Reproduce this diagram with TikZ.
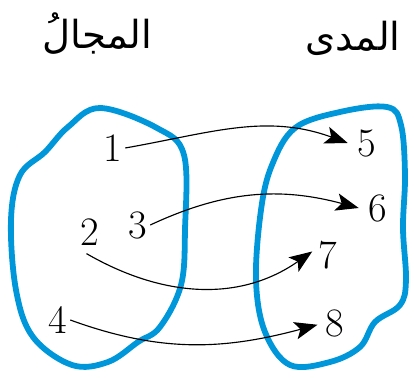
\documentclass[tikz,border=0pt]{standalone}
\usepackage{fontspec}
\usepackage{xcolor}
\usetikzlibrary{arrows.meta}
\newfontfamily\arabicfont[Script=Arabic]{DejaVu Sans}
\TeXXeTstate=1
\definecolor{setblue}{RGB}{0,150,218}

\begin{document}
\begin{tikzpicture}[x=0.02cm,y=-0.02cm,>={Stealth[length=13pt,width=10pt,inset=3pt]},line join=round]
  \tikzset{
    elem/.style={inner sep=1.5pt,font=\fontsize{23}{27}\selectfont},
    maparrow/.style={->,line width=0.65pt,black},
    blob/.style={setblue,line width=3.3pt},
    settitle/.style={font=\fontsize{22}{26}\selectfont\arabicfont}
  }
  \useasboundingbox (0,0) rectangle (414,378);
  % set outlines
  \draw[blob] plot[smooth cycle,tension=0.6] coordinates {
    (100,108) (157,128) (184,155) (185,230) (181,285) (160,327)
    (138,342) (108,362) (72,365) (33,337) (16,290) (11,220)
    (20,175) (45,152) (68,127)};
  \draw[blob] plot[smooth cycle,tension=0.6] coordinates {
    (340,112) (387,107) (401,125) (405,175) (403,228) (406,280)
    (400,305) (375,322) (360,347) (330,362) (290,365) (265,332)
    (256,280) (261,210) (272,165) (295,128)};
  % titles
  \node[settitle] (domain) at (97,34) {\beginR المجالُ\endR};
  \node[settitle] (range) at (353,38) {\beginR المدى\endR};
  % elements
  \node[elem] (n1) at (113,148) {1};
  \node[elem] (n2) at (90,232) {2};
  \node[elem] (n3) at (138,225) {3};
  \node[elem] (n4) at (58,320) {4};
  \node[elem] (n5) at (367,143) {5};
  \node[elem] (n6) at (378,208) {6};
  \node[elem] (n7) at (328,255) {7};
  \node[elem] (n8) at (335,323) {8};
  % mapping
  \draw[maparrow] (n1.east) to[out=10,in=160] ([xshift=-4pt]n5.west);
  \draw[maparrow] (n3.east) to[out=25,in=165] ([xshift=-4pt]n6.west);
  \draw[maparrow] ([xshift=-2pt,yshift=-3pt]n2.south) to[out=-30,in=215] ([xshift=-2pt,yshift=2pt]n7.west);
  \draw[maparrow] (n4.east) to[out=-20,in=195] ([xshift=-3pt,yshift=-1pt]n8.west);
\end{tikzpicture}
\end{document}
